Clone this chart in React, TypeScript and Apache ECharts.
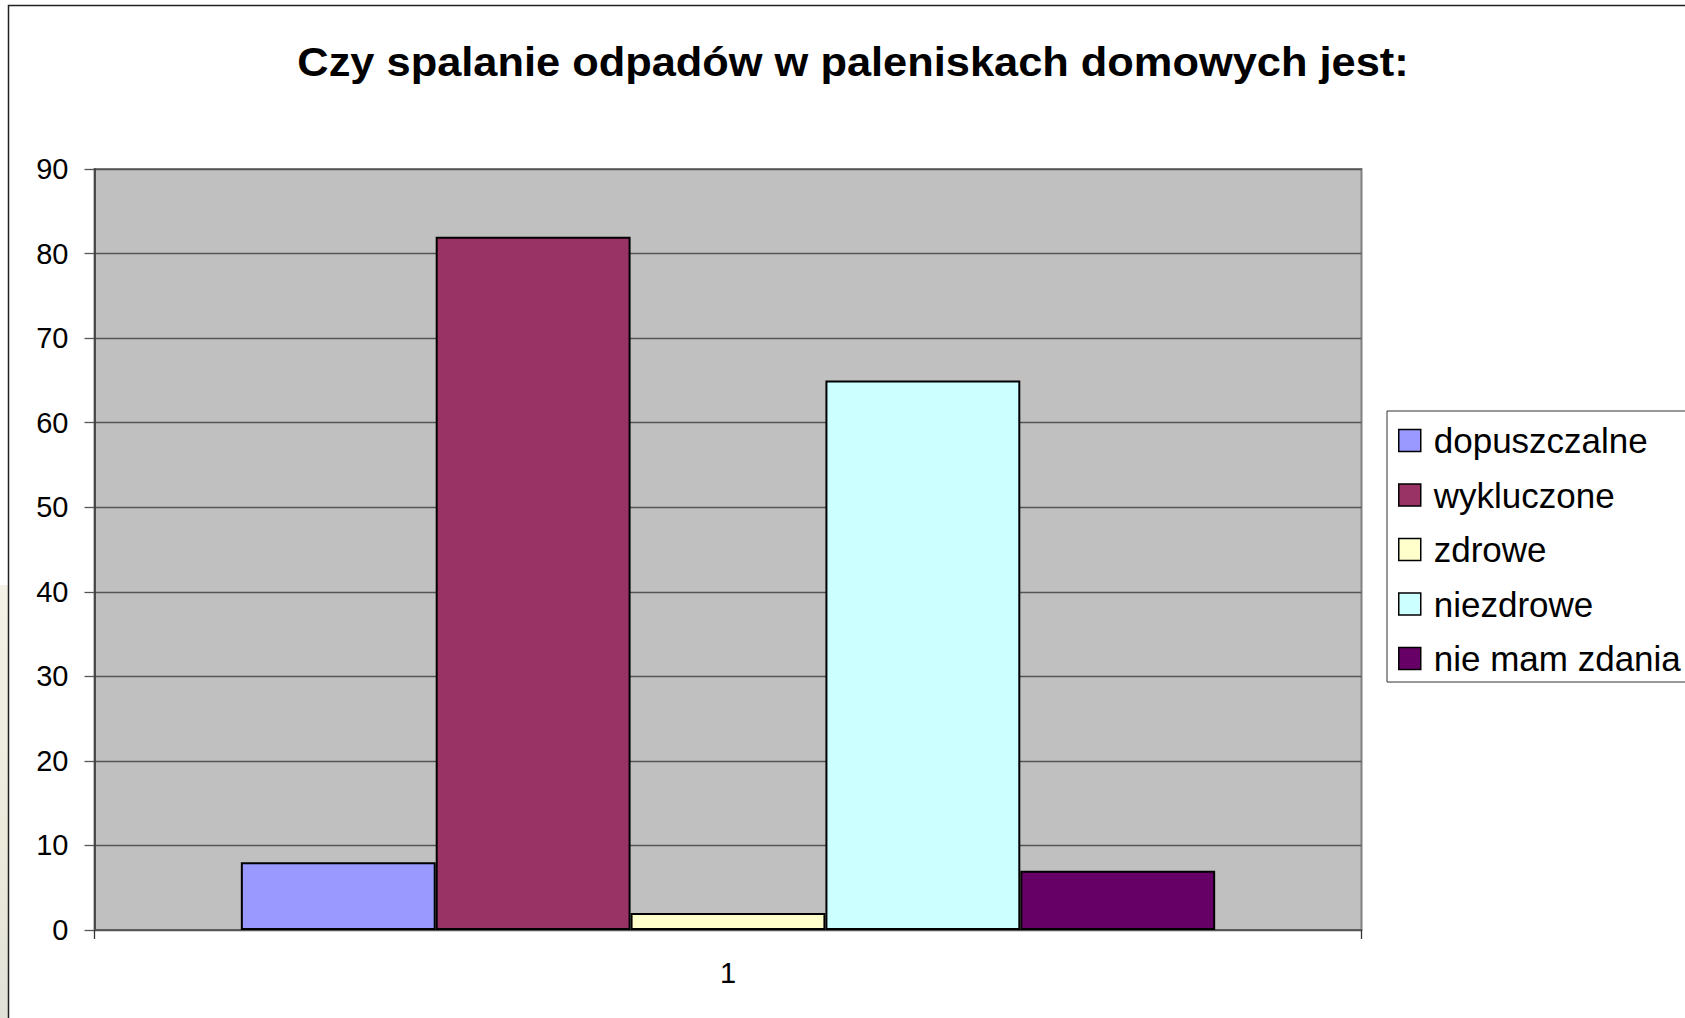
import React, { useEffect, useRef } from "react";
import * as echarts from "echarts";

const TITLE = "Czy spalanie odpadów w paleniskach domowych jest:";
const categories = ["1"];
const seriesNames = ["dopuszczalne", "wykluczone", "zdrowe", "niezdrowe", "nie mam zdania"];
const seriesValues = [8, 82, 2, 65, 7];
const seriesColors = ["#9999FF", "#993366", "#FFFFCC", "#CCFFFF", "#660066"];
const yTicks = { min: 0, max: 90, interval: 10 };

const FONT = '"Liberation Sans", Arial, sans-serif';

export default function App() {
  const ref = useRef<HTMLDivElement>(null);
  useEffect(() => {
    if (!ref.current) return;
    const chart = echarts.init(ref.current, undefined, { renderer: "svg" });
    chart.setOption({
      animation: false,
      backgroundColor: "#FFFFFF",
      textStyle: { fontFamily: FONT },
      graphic: [
        {
          type: "rect",
          silent: true,
          shape: { x: 0, y: 585, width: 8, height: 433 },
          style: {
            fill: new echarts.graphic.LinearGradient(0, 0, 0, 1, [
              { offset: 0, color: "#F4F2E6" },
              { offset: 0.6, color: "#ECEADB" },
              { offset: 1, color: "#E2E1D8" },
            ]),
          },
        },
        {
          type: "rect",
          silent: true,
          shape: { x: 8.5, y: 5.5, width: 1700, height: 1100 },
          style: { fill: "none", stroke: "#222", lineWidth: 1.5 },
        },
        {
          type: "text",
          x: 853,
          y: 62,
          scaleX: 1.085,
          style: {
            text: TITLE,
            fontFamily: FONT,
            fontSize: 40,
            fontWeight: "bold",
            fill: "#000",
            textAlign: "center",
            textVerticalAlign: "middle",
          },
        },
      ],
      legend: {
        orient: "vertical",
        left: 1387,
        top: 411,
        padding: [12, 40, 6, 11],
        itemWidth: 22,
        itemHeight: 22,
        itemGap: 19.5,
        icon: "rect",
        borderColor: "#333",
        borderWidth: 1,
        backgroundColor: "#FFFFFF",
        itemStyle: { borderColor: "#000", borderWidth: 1.5 },
        textStyle: {
          fontFamily: FONT,
          fontSize: 35,
          lineHeight: 34,
          color: "#000",
          padding: [0, 0, 0, 8],
        },
        data: seriesNames,
      },
      grid: {
        left: 94.5,
        top: 169,
        right: 1685 - 1361.5,
        bottom: 1018 - 930,
        show: true,
        backgroundColor: "#C0C0C0",
        borderColor: "#808080",
        borderWidth: 2,
        outerBoundsMode: "none",
        containLabel: false,
      },
      xAxis: {
        type: "category",
        data: categories,
        axisLine: { show: true, lineStyle: { color: "#555", width: 1.5 } },
        axisTick: { show: true, length: 9, lineStyle: { color: "#333", width: 1.3 } },
        axisLabel: { fontFamily: FONT, fontSize: 29, color: "#000", margin: 28 },
        splitLine: { show: false },
      },
      yAxis: {
        type: "value",
        min: yTicks.min,
        max: yTicks.max,
        interval: yTicks.interval,
        axisLine: { show: true, lineStyle: { color: "#333", width: 1.5 } },
        axisTick: { show: true, length: 10, lineStyle: { color: "#555", width: 1.3 } },
        axisLabel: { fontFamily: FONT, fontSize: 29, color: "#000", margin: 26 },
        splitLine: { show: true, lineStyle: { color: "#555", width: 1.3 } },
      },
      series: seriesNames.map((name, i) => ({
        name,
        type: "bar",
        data: [seriesValues[i]],
        barGap: "0%",
        barCategoryGap: "23.1%",
        itemStyle: { color: seriesColors[i], borderColor: "#000", borderWidth: 2 },
      })),
    });
    return () => chart.dispose();
  }, []);
  return (
    <div
      ref={ref}
      style={{ position: "fixed", left: 0, top: 0, width: 1685, height: 1018 }}
    />
  );
}
